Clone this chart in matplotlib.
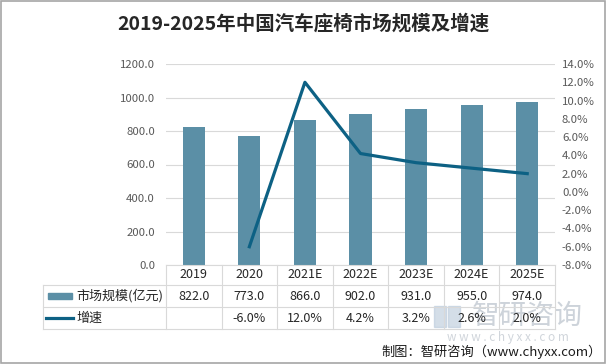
import matplotlib
matplotlib.use("Agg")
import matplotlib.pyplot as plt
from matplotlib.lines import Line2D
from matplotlib.patches import Rectangle

plt.rcParams['font.family'] = ['Noto Sans CJK SC', 'DejaVu Sans']

categories = ["2019", "2020", "2021E", "2022E", "2023E", "2024E", "2025E"]
market_size = [822.0, 773.0, 866.0, 902.0, 931.0, 955.0, 974.0]
growth = [None, -6.0, 12.0, 4.2, 3.2, 2.6, 2.0]
size_label = "市场规模(亿元)"
growth_label = "增速"
title = "2019-2025年中国汽车座椅市场规模及增速"
source = "制图：智研咨询（www.chyxx.com）"
watermark = "智研咨询"
watermark_url = "w w w . c h y x x . c o m"

bar_color = "#5B8FA6"
line_color = "#0D6184"
grid_color = "#D9D9D9"
tick_color = "#595959"

W, H = 606, 364
fig = plt.figure(figsize=(W / 100, H / 100), dpi=100)

def fx(px):
    return px / W

def fy(py):
    return 1 - py / H

ax_l, ax_r, ax_t, ax_b = 166, 555, 64, 265
ax = fig.add_axes([fx(ax_l), fy(ax_b), fx(ax_r) - fx(ax_l), fy(ax_t) - fy(ax_b)])
n = len(categories)
xs = list(range(n))
ax.bar(xs, market_size, width=0.4, color=bar_color, zorder=2)
ax.set_xlim(-0.5, n - 0.5)
ax.set_ylim(0, 1200)
ax.set_yticks(range(0, 1201, 200))
ax.set_yticklabels([f"{v:.1f}" for v in range(0, 1201, 200)])
ax.grid(axis='y', color=grid_color, linewidth=0.8, zorder=0)
ax.set_xticks([])
for s in ax.spines.values():
    s.set_visible(False)
ax.tick_params(axis='y', length=0, labelsize=8.2, labelcolor=tick_color, pad=8)

ax2 = ax.twinx()
gx = [x for x, g in zip(xs, growth) if g is not None]
gy = [g for g in growth if g is not None]
ax2.plot(gx, gy, color=line_color, linewidth=2.3, zorder=3)
ax2.set_ylim(-8, 14)
ax2.set_yticks(range(-8, 15, 2))
ax2.set_yticklabels([f"{v:.1f}%" for v in range(-8, 15, 2)])
for s in ax2.spines.values():
    s.set_visible(False)
ax2.tick_params(axis='y', length=0, labelsize=8.2, labelcolor=tick_color, pad=5)

# Title
fig.text(0.5, fy(24), title, ha='center', va='center', fontsize=14,
         fontweight='bold', color='#262626')

# watermark (behind table text)
fig.add_artist(Rectangle((fx(434), fy(327)), fx(446) - fx(434), fy(306) - fy(327),
                         color='#B8C8DA', alpha=0.6, transform=fig.transFigure, zorder=0))
fig.add_artist(Rectangle((fx(448), fy(327)), fx(460) - fx(448), fy(306) - fy(327),
                         color='#B8C8DA', alpha=0.6, transform=fig.transFigure, zorder=0))
fig.text(fx(527), fy(316), watermark, fontsize=20, color='#CDD3DA',
         ha='center', va='center', zorder=0)
fig.text(fx(508), fy(338), watermark_url, fontsize=8.5, color='#D0D5DB',
         ha='center', va='center', zorder=0)

# Data table drawn in figure pixels
col_w = (ax_r - ax_l) / n
rows_y = [265, 285, 307, 329]
table_left = 43
lc = "#D9D9D9"
lw = 0.8
def hline(x0, x1, y):
    fig.add_artist(Line2D([fx(x0), fx(x1)], [fy(y), fy(y)], color=lc, linewidth=lw))
def vline(x, y0, y1):
    fig.add_artist(Line2D([fx(x), fx(x)], [fy(y0), fy(y1)], color=lc, linewidth=lw))

hline(ax_l, ax_r, rows_y[0])
hline(table_left, ax_r, rows_y[1])
hline(table_left, ax_r, rows_y[2])
hline(table_left, ax_r, rows_y[3])
vline(table_left, rows_y[1], rows_y[3])
for i in range(n + 1):
    vline(ax_l + i * col_w, rows_y[0], rows_y[3])

txt_kw = dict(fontsize=9, color='#262626', ha='center', va='center')
for i, c in enumerate(categories):
    cx = ax_l + (i + 0.5) * col_w
    fig.text(fx(cx), fy((rows_y[0] + rows_y[1]) / 2), c, **txt_kw)
    fig.text(fx(cx), fy((rows_y[1] + rows_y[2]) / 2), f"{market_size[i]:.1f}", **txt_kw)
    if growth[i] is not None:
        fig.text(fx(cx), fy((rows_y[2] + rows_y[3]) / 2), f"{growth[i]:.1f}%", **txt_kw)

# legend keys in table
ry1 = (rows_y[1] + rows_y[2]) / 2
ry2 = (rows_y[2] + rows_y[3]) / 2
fig.add_artist(Rectangle((fx(48), fy(ry1 + 3)), fx(72) - fx(48), fy(ry1 - 3) - fy(ry1 + 3),
                         color=bar_color, transform=fig.transFigure))
fig.text(fx(76), fy(ry1), size_label, fontsize=9.4, color='#262626', ha='left', va='center')
fig.add_artist(Line2D([fx(46), fx(73)], [fy(ry2), fy(ry2)], color=line_color, linewidth=2.3))
fig.text(fx(76), fy(ry2), growth_label, fontsize=9.4, color='#262626', ha='left', va='center')

# source
fig.text(fx(602), fy(352), source, fontsize=9.5, color='#1A1A1A', ha='right', va='center')

# border
fig.add_artist(Rectangle((0.001, 0.002), 0.997, 0.996, fill=False, edgecolor='#A6A6A6',
                         linewidth=1.2, transform=fig.transFigure))

fig.savefig("out.png", dpi=100, facecolor='white')
